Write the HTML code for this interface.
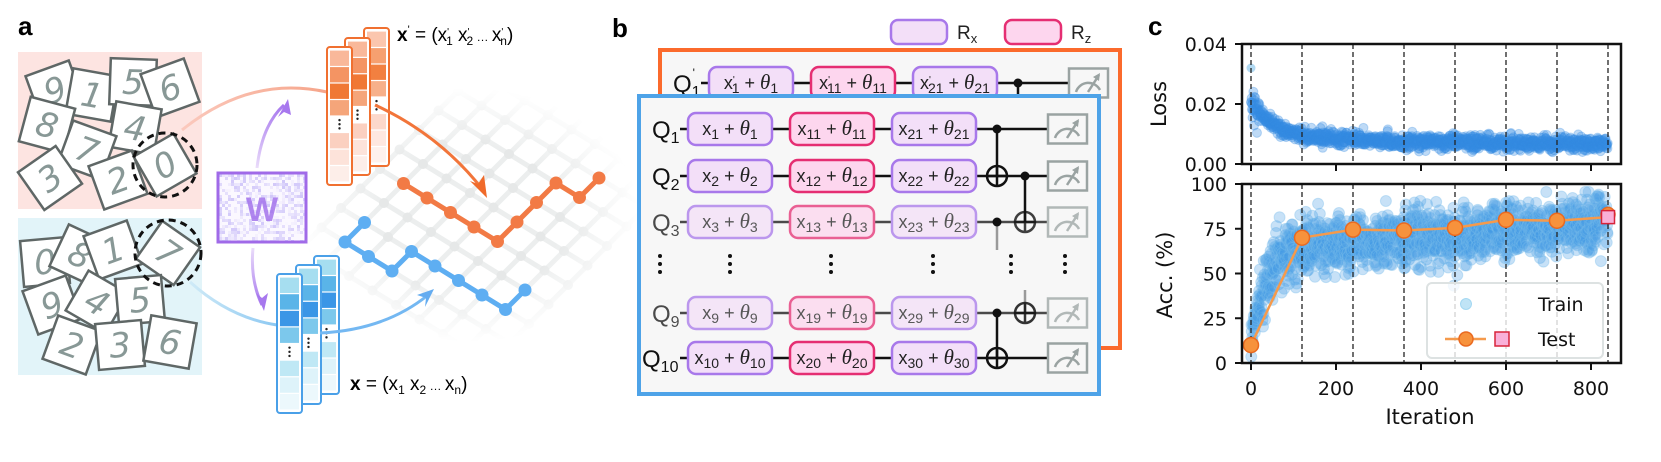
<!DOCTYPE html>
<html><head><meta charset="utf-8">
<style>
html,body{margin:0;padding:0;background:#fff;}
svg{display:block;font-family:"Liberation Sans","DejaVu Sans",sans-serif;}
.g{font-family:"DejaVu Sans","Liberation Sans",sans-serif;}
</style></head>
<body>
<svg id="s" width="1661" height="462" viewBox="0 0 1661 462" xmlns="http://www.w3.org/2000/svg">
<defs>
<radialGradient id="fadeG" cx="470" cy="215" r="170" gradientUnits="userSpaceOnUse" gradientTransform="translate(470 215) scale(1 0.75) translate(-470 -215)">
<stop offset="0.55" stop-color="#fff"/><stop offset="1" stop-color="#000"/></radialGradient>
<mask id="gridMask"><rect x="0" y="0" width="700" height="462" fill="url(#fadeG)"/></mask>
<linearGradient id="pinkArc" x1="0" x2="1"><stop offset="0" stop-color="#fbc9bd"/><stop offset="1" stop-color="#f6a58a"/></linearGradient>
<linearGradient id="blueArc" x1="0" x2="1"><stop offset="0" stop-color="#cfeaf7"/><stop offset="1" stop-color="#8cc8f2"/></linearGradient>
<linearGradient id="purUp" x1="0" y1="1" x2="0" y2="0"><stop offset="0" stop-color="#eadcfa"/><stop offset="1" stop-color="#a778ee"/></linearGradient>
<linearGradient id="purDn" x1="0" y1="0" x2="0" y2="1"><stop offset="0" stop-color="#eadcfa"/><stop offset="1" stop-color="#a778ee"/></linearGradient>
<clipPath id="wclip"><rect x="219" y="174" width="86" height="67"/></clipPath>
</defs>

<text x="18" y="35" font-size="26" font-weight="bold">a</text>
<rect x="18" y="52" width="184" height="157" fill="#fde4e1"/>
<rect x="18" y="218" width="184" height="157" fill="#e2f4f9"/>
<g id="cards" class="g"></g>
<circle cx="165" cy="165" r="32" fill="none" stroke="#111" stroke-width="3" stroke-dasharray="7 5"/>
<circle cx="168" cy="253" r="33" fill="none" stroke="#111" stroke-width="3" stroke-dasharray="7 5"/>

<path d="M182 130 Q250 75 327 92" fill="none" stroke="url(#pinkArc)" stroke-width="3"/>
<path d="M190 282 Q230 318 277 325" fill="none" stroke="url(#blueArc)" stroke-width="3"/>
<path d="M257 168 Q262 125 284 105" fill="none" stroke="url(#purUp)" stroke-width="3"/>
<polygon points="288,99 278,117 284,112 291,115" fill="#a778ee"/>
<path d="M253 248 Q250 280 262 305" fill="none" stroke="url(#purDn)" stroke-width="3"/>
<polygon points="264,311 256,293 262,298 268,293" fill="#a778ee"/>

<rect x="218" y="173" width="88" height="69" fill="#fbf8ff" stroke="#a06ae8" stroke-width="3"/>
<g id="wnoise" clip-path="url(#wclip)"></g>
<text x="262" y="221" font-size="34" font-weight="bold" fill="#a474ec" text-anchor="middle" opacity="0.85">W</text>

<g id="grid" mask="url(#gridMask)"></g>

<g id="vecs"></g>
<path d="M375 105 Q440 135 483 190" fill="none" stroke="#f2753a" stroke-width="3"/>
<polygon points="487,198 470,181 478,184 484,175" fill="#f06a2a"/>
<path d="M320 333 Q385 330 428 295" fill="none" stroke="#74b8f2" stroke-width="3"/>
<polygon points="434,289 425,307 426,298 417,295" fill="#64acf0"/>
<g id="paths"></g>

<text x="397" y="41" font-size="19"><tspan font-weight="bold">x</tspan><tspan dy="-8" font-size="11">'</tspan><tspan dy="8"> = (x</tspan><tspan dy="-6" font-size="10">'</tspan><tspan dx="-3" dy="10" font-size="12">1</tspan><tspan dy="-4"> x</tspan><tspan dy="-6" font-size="10">'</tspan><tspan dx="-3" dy="10" font-size="12">2</tspan><tspan dy="-4" font-size="12"> … </tspan><tspan>x</tspan><tspan dy="-6" font-size="10">'</tspan><tspan dx="-3" dy="10" font-size="12">n</tspan><tspan dy="-4">)</tspan></text>
<text x="350" y="390" font-size="19"><tspan font-weight="bold">x</tspan><tspan> = (x</tspan><tspan dy="4" font-size="12">1</tspan><tspan dy="-4"> x</tspan><tspan dy="4" font-size="12">2</tspan><tspan dy="-4" font-size="12"> … </tspan><tspan>x</tspan><tspan dy="4" font-size="12">n</tspan><tspan dy="-4">)</tspan></text>

<text x="612" y="37" font-size="26" font-weight="bold">b</text>
<rect x="891" y="20" width="56" height="24" rx="7" fill="#f3dff8" stroke="#a878ea" stroke-width="2.5"/>
<text x="957" y="39" font-size="19" fill="#222">R<tspan dy="4" font-size="13">x</tspan></text>
<rect x="1005" y="20" width="56" height="24" rx="7" fill="#fdd6ee" stroke="#e52e72" stroke-width="2.5"/>
<text x="1071" y="39" font-size="19" fill="#222">R<tspan dy="4" font-size="13">z</tspan></text>
<g id="circO"></g>
<g id="circB"></g>

<text x="1148" y="35" font-size="26" font-weight="bold">c</text>
<g id="plot" class="g"></g>
</svg>

<script>
(function(){
var NS="http://www.w3.org/2000/svg";
function el(tag,attrs,parent,text){var e=document.createElementNS(NS,tag);for(var k in attrs)e.setAttribute(k,attrs[k]);if(text!==undefined)e.textContent=text;(parent||document.getElementById('s')).appendChild(e);return e;}
var seed=12345;function rnd(){seed|=0;seed=seed+0x6D2B79F5|0;var t=Math.imul(seed^seed>>>15,1|seed);t=t+Math.imul(t^t>>>7,61|t)^t;return((t^t>>>14)>>>0)/4294967296;}
function gauss(){var u=rnd()||1e-9,v=rnd();return Math.sqrt(-2*Math.log(u))*Math.cos(2*Math.PI*v);}

var cards=document.getElementById('cards');
var C=[["9",55,90,-20],["1",92,95,10],["5",133,82,2],["6",170,88,-20],["8",47,125,15],["4",135,128,10],["7",87,150,20],["3",50,178,-35],["2",118,180,-20],["0",165,165,-30],
["0",45,262,-5],["8",80,255,25],["1",113,250,-20],["7",168,253,35],["9",52,305,-20],["4",97,302,30],["5",140,300,-5],["2",72,345,20],["3",120,345,-5],["6",170,342,10]];
C.forEach(function(c){var g=el('g',{transform:'translate('+c[1]+' '+c[2]+') rotate('+c[3]+')'},cards);
el('rect',{x:-23,y:-23,width:46,height:46,fill:'#fff',stroke:'#5f6766','stroke-width':2.5},g);
el('text',{x:0,y:12,'font-size':34,'text-anchor':'middle',fill:'#889896','font-style':'italic'},g,c[0]);});

var wn=document.getElementById('wnoise');
for(var x=219;x<305;x+=3)for(var y=174;y<241;y+=3){var r=rnd();if(r>0.45)el('rect',{x:x,y:y,width:3,height:3,fill:'#8f7af0',opacity:(r-0.45)*0.7},wn);}

var grid=document.getElementById('grid');
var B=[345,242],u=[23.5,14.5],v=[19.5,-19.5];
function P(i,j){return [B[0]+i*u[0]+j*v[0],B[1]+i*u[1]+j*v[1]];}
for(var i=-1;i<=7;i++){var a=P(i,-1),b=P(i,9);el('line',{x1:a[0],y1:a[1],x2:b[0],y2:b[1],stroke:'#eceeee','stroke-width':5},grid);}
for(var j=-1;j<=9;j++){var a=P(-1,j),b=P(7,j);el('line',{x1:a[0],y1:a[1],x2:b[0],y2:b[1],stroke:'#eceeee','stroke-width':5},grid);}
for(var i=-1;i<=7;i++)for(var j=-1;j<=9;j++){var p=P(i,j);el('circle',{cx:p[0],cy:p[1],r:5,fill:'#e6e8e8'},grid);}

var pg=document.getElementById('paths');
function drawPath(ij,col){var pts=ij.map(function(q){return P(q[0],q[1]);});
el('polyline',{points:pts.map(function(p){return p.join(',')}).join(' '),fill:'none',stroke:col,'stroke-width':5,'stroke-linejoin':'round'},pg);
pts.forEach(function(p){el('circle',{cx:p[0],cy:p[1],r:6.5,fill:col},pg);});}
drawPath([[0,3],[1,3],[2,3],[3,3],[4,3],[4,4],[4,5],[4,6],[5,6],[5,7]],'#f27a45');
drawPath([[0,1],[0,0],[1,0],[2,0],[2,1],[3,1],[4,1],[5,1],[6,1],[6,2]],'#5eaef2');

var vg=document.getElementById('vecs');
function vec(x,y,h,stroke,cols){el('rect',{x:x,y:y,width:25,height:h,rx:3,fill:'#fff',stroke:stroke,'stroke-width':2},vg);
var cy=y+3,ch=(h-6)/8;for(var k=0;k<8;k++){if(k==4){for(var d=0;d<3;d++)el('circle',{cx:x+12.5,cy:cy+ch*0.25+d*ch*0.25,r:1.2,fill:'#222'},vg);}else el('rect',{x:x+3,y:cy+0.6,width:19,height:ch-1.2,fill:cols[k<4?k:k-1]},vg);cy+=ch;}}
var oc=['#f9b89a','#f49463','#f07835','#f5a57a','#fbd0c0','#fde3da','#fdeee9'];
var oc2=['#fbc6ae','#f6a070','#f28040','#f7b08a','#fcd8cb','#fee7e0','#fef1ed'];
vec(364,28,138,'#f07030',oc2);vec(345,38,137,'#f07030',oc);vec(327,47,138,'#f07030',oc);
var bc=['#a6def0','#5ab4e8','#3b96e6','#7cc8ec','#bfe8f5','#def3fa','#ecf8fc'];
vec(314,256,138,'#4aa0e8',bc);vec(296,265,139,'#4aa0e8',bc);vec(277,274,139,'#4aa0e8',bc);

function gateText(g,cx,cy,pre,idx,prime){var t=el('text',{x:cx,y:cy+6,'font-size':18,'text-anchor':'middle',fill:'#222'},g);
function ts(txt,a){var s=el('tspan',a||{},t,txt);return s;}
ts('x');if(prime){ts("'",{dy:-6,'font-size':10});ts(idx,{dy:10,dx:-3,'font-size':14});}else ts(idx,{dy:4,'font-size':14});
ts(' + ',{dy:-4});ts('θ',{'font-style':'italic','font-family':'"Liberation Serif",serif','font-size':21});ts(idx,{dy:4,'font-size':14});}
function circuit(gid,dx,dy,frameCol,rows,prime){var g=document.getElementById(gid);
var fx=637+dx,fy=94+dy;
el('rect',{x:fx+2,y:fy+2,width:460,height:298,fill:'#f7f7f7',stroke:frameCol,'stroke-width':4},g);
var cols=[[688,'#f3dff8','#a878ea',0],[790,'#fdd6ee','#e52e72',10],[892,'#f3dff8','#a878ea',20]];
rows.forEach(function(r){var y=r[0]+dy,n=r[1],op=r[2];
var gr=el('g',{opacity:op},g);
el('line',{x1:680+dx,y1:y,x2:1048+dx,y2:y,stroke:'#111','stroke-width':2.5},gr);
var lab=el('text',{x:(n==10?642:652)+dx,y:y+9,'font-size':24,fill:'#111'},gr,'Q');
el('tspan',{dy:5,'font-size':16},lab,String(n));
if(prime){el('tspan',{dy:-20,dx:-8,'font-size':12},lab,"'");}
cols.forEach(function(c){el('rect',{x:c[0]+dx,y:y-16,width:84,height:32,rx:8,fill:c[1],stroke:c[2],'stroke-width':2.5},gr);gateText(gr,c[0]+42+dx,y,'x',String(n+c[3]),prime);});
var mx=1048+dx;el('rect',{x:mx,y:y-14.5,width:39,height:29,fill:'#f7f7f7',stroke:'#9aa3a2','stroke-width':2.5},gr);
el('path',{d:'M'+(mx+7)+' '+(y+9)+' A13 13 0 0 1 '+(mx+31)+' '+(y+7),fill:'none',stroke:'#9aa3a2','stroke-width':2.5},gr);
el('line',{x1:mx+19,y1:y+9,x2:mx+30,y2:y-8,stroke:'#9aa3a2','stroke-width':2.5},gr);
el('polygon',{points:(mx+31)+','+(y-10)+' '+(mx+24)+','+(y-6)+' '+(mx+30)+','+(y-2),fill:'#9aa3a2'},gr);
});}
circuit('circO',21,-46,'#fb6a2c',[[129,1,1]],true);
circuit('circB',0,0,'#4ea3e8',[[129,1,1],[176,2,1],[222,3,0.75],[313,9,0.75],[358,10,1]],false);
var cb=document.getElementById('circB');
function ctrl(x,y){el('circle',{cx:x,cy:y,r:4.5,fill:'#111'},cb);}
function targ(x,y,op){var gg=el('g',{opacity:op||1},cb);el('circle',{cx:x,cy:y,r:10,fill:'none',stroke:'#111','stroke-width':2.5},gg);el('line',{x1:x-10,y1:y,x2:x+10,y2:y,stroke:'#111','stroke-width':2.5},gg);el('line',{x1:x,y1:y-10,x2:x,y2:y+10,stroke:'#111','stroke-width':2.5},gg);}
function vl(x,y1,y2,op){el('line',{x1:x,y1:y1,x2:x,y2:y2,stroke:'#111','stroke-width':2.5,opacity:op||1},cb);}
vl(997,129,176);ctrl(997,129);targ(997,176);
vl(1025,176,222);ctrl(1025,176);targ(1025,222,0.8);
vl(997,222,250,0.4);ctrl(997,222);
vl(1025,290,313,0.4);targ(1025,313,0.85);
vl(997,313,358);ctrl(997,313);targ(997,358);
[660,730,831,933,1011,1065].forEach(function(x){for(var d=0;d<3;d++)el('circle',{cx:x,cy:256+d*8,r:2,fill:'#111'},cb);});
var co=document.getElementById('circO');el('circle',{cx:1018,cy:83,r:4.5,fill:'#111'},co);el('line',{x1:1018,y1:83,x2:1018,y2:96,stroke:'#111','stroke-width':2.5},co);

var pl=document.getElementById('plot');
function X(t){return 1251+0.425*t;}
function YL(l){return 164-l/0.04*120;}
function YA(a){return 363-a*1.79;}
var lg=el('g',{},pl);
for(var t=0;t<=840;t+=0.7){var m=0.0063+0.012*Math.exp(-t/45)+0.0035*Math.exp(-t/350);var l=m+gauss()*0.0012*(t<20?2:1);
el('circle',{cx:X(t),cy:YL(l),r:4.5,fill:'rgba(52,140,226,0.32)',stroke:'rgba(52,140,226,0.3)','stroke-width':1},lg);}
el('circle',{cx:X(0),cy:YL(0.032),r:4.5,fill:'rgba(100,180,230,0.5)'},lg);
var ag=el('g',{},pl);
for(var t=0;t<=840;t+=0.6){var m=t<110?10+56*(1-Math.exp(-t/35)):66+(t-110)*0.016;var sd=t<20?5:(t<110?10:8);var a=m+gauss()*sd;if(a>98)a=98-rnd()*5;if(a<3)a=3;
el('circle',{cx:X(t),cy:YA(a),r:5.5,fill:'rgba(70,155,228,0.3)',stroke:'rgba(120,190,235,0.35)','stroke-width':1},ag);}
for(var k=0;k<8;k++){var x=X(k*120);el('line',{x1:x,y1:44,x2:x,y2:164,stroke:'#222','stroke-width':1.3,'stroke-dasharray':'5 3'},pl);el('line',{x1:x,y1:184,x2:x,y2:363,stroke:'#222','stroke-width':1.3,'stroke-dasharray':'5 3'},pl);}
el('rect',{x:1427,y:283,width:176,height:75,rx:5,fill:'rgba(255,255,255,0.8)',stroke:'#dde2e2','stroke-width':2},pl);
el('circle',{cx:1466,cy:304,r:5.5,fill:'rgba(150,210,240,0.6)',stroke:'rgba(150,210,240,0.8)'},pl);
el('text',{x:1538,y:311,'font-size':19,fill:'#111'},pl,'Train');
el('line',{x1:1445,y1:339,x2:1486,y2:339,stroke:'#f59a4c','stroke-width':2.5},pl);
el('circle',{cx:1466,cy:339,r:7,fill:'#f7923c',stroke:'#ea6a20','stroke-width':1.5},pl);
el('rect',{x:1495,y:332,width:14,height:14,fill:'#f9b0d8',stroke:'#d8243a','stroke-width':1.5},pl);
el('text',{x:1538,y:346,'font-size':19,fill:'#111'},pl,'Test');
var T=[[0,10],[120,70],[240,74.5],[360,74],[480,75.5],[600,80],[720,79.5],[840,81.5]];
el('polyline',{points:T.map(function(p){return X(p[0])+','+YA(p[1]);}).join(' '),fill:'none',stroke:'#f59a4c','stroke-width':2.5},pl);
T.forEach(function(p,i){if(i<7)el('circle',{cx:X(p[0]),cy:YA(p[1]),r:7.5,fill:'#f7923c',stroke:'#ea6a20','stroke-width':1.5},pl);});
el('circle',{cx:X(840),cy:YA(83),r:7,fill:'#f7923c',stroke:'#ea6a20','stroke-width':1.5},pl);
el('rect',{x:X(840)-6.5,y:YA(81.5)-6.5,width:13,height:13,fill:'#f9b0d8',stroke:'#d8243a','stroke-width':1.5},pl);
el('rect',{x:1242,y:44,width:379,height:120,fill:'none',stroke:'#111','stroke-width':2.5},pl);
el('rect',{x:1242,y:184,width:379,height:179,fill:'none',stroke:'#111','stroke-width':2.5},pl);
[[0.04,'0.04'],[0.02,'0.02'],[0,'0.00']].forEach(function(q){var y=YL(q[0]);el('line',{x1:1235,y1:y,x2:1242,y2:y,stroke:'#111','stroke-width':2},pl);el('text',{x:1227,y:y+7,'font-size':19,'text-anchor':'end',fill:'#111'},pl,q[1]);});
[100,75,50,25,0].forEach(function(a){var y=YA(a);el('line',{x1:1235,y1:y,x2:1242,y2:y,stroke:'#111','stroke-width':2},pl);el('text',{x:1227,y:y+7,'font-size':19,'text-anchor':'end',fill:'#111'},pl,String(a));});
[0,200,400,600,800].forEach(function(t){var x=X(t);el('line',{x1:x,y1:164,x2:x,y2:171,stroke:'#111','stroke-width':2},pl);el('line',{x1:x,y1:363,x2:x,y2:370,stroke:'#111','stroke-width':2},pl);el('text',{x:x,y:395,'font-size':19,'text-anchor':'middle',fill:'#111'},pl,String(t));});
el('text',{x:1430,y:424,'font-size':21,'text-anchor':'middle',fill:'#111'},pl,'Iteration');
el('text',{x:0,y:0,'font-size':21,'text-anchor':'middle',fill:'#111',transform:'translate(1166 104) rotate(-90)'},pl,'Loss');
el('text',{x:0,y:0,'font-size':21,'text-anchor':'middle',fill:'#111',transform:'translate(1172 275) rotate(-90)'},pl,'Acc. (%)');
})();
</script>
</body></html>
